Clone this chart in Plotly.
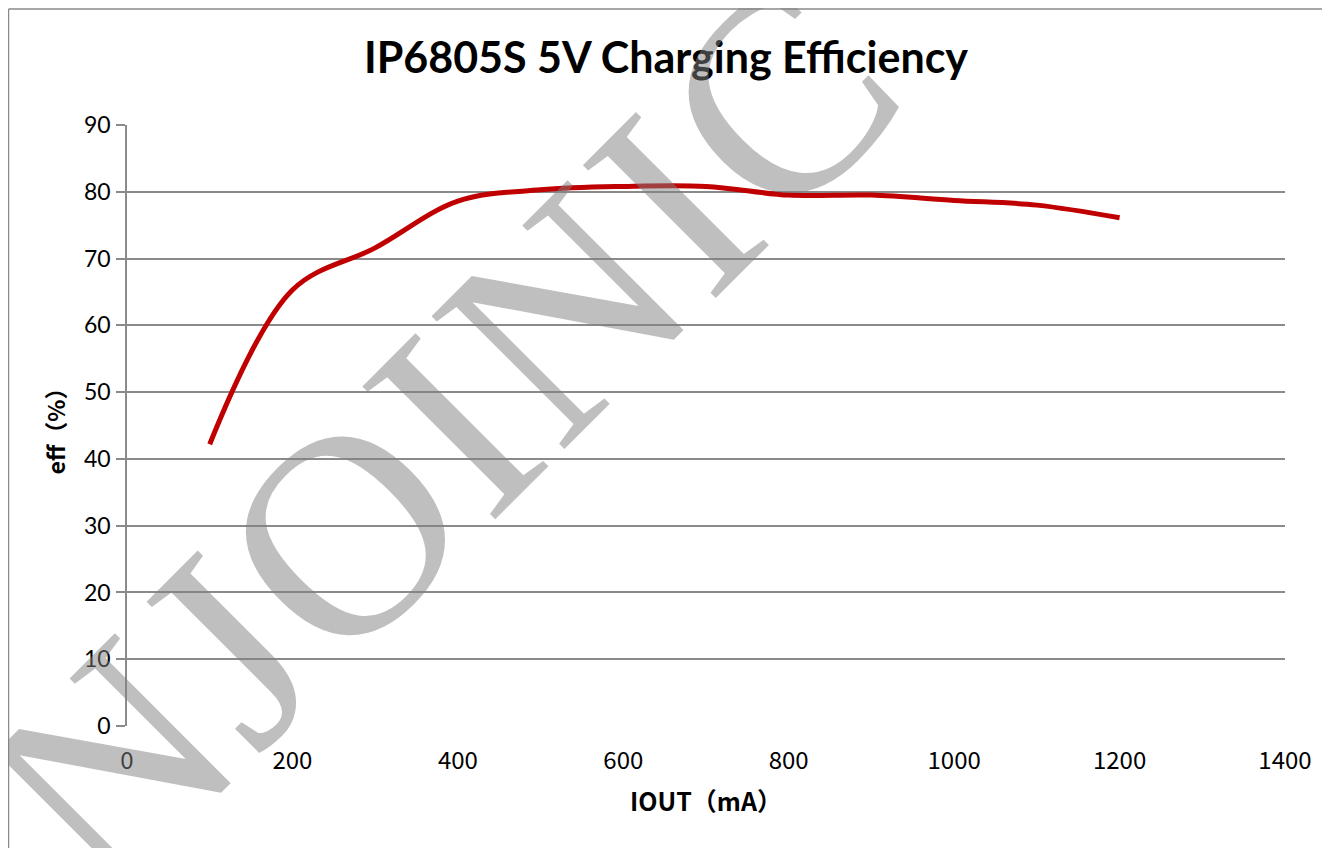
import math
import plotly.graph_objects as go

iout_ma = [100, 200, 300, 400, 500, 600, 700, 800, 900, 1000, 1100, 1200]
eff_pct = [42.2, 65.3, 71.6, 78.6, 80.3, 80.8, 80.8, 79.5, 79.5, 78.7, 78.0, 76.1]

x_ticks = [0, 200, 400, 600, 800, 1000, 1200, 1400]
y_ticks = [0, 10, 20, 30, 40, 50, 60, 70, 80, 90]

title_text = "IP6805S 5V Charging Efficiency"
x_title = "IOUT（mA）"
y_title = "eff（%）"
watermark = "NJOINIC"
# advance widths (em) of the serif watermark letters
wm_adv = {"N": 0.722, "J": 0.389, "O": 0.722, "I": 0.333, "C": 0.667}

W, H = 1330, 848
OFF = 8  # page body margin
PX0, PX1, PY0, PY1 = 127, 1285, 125, 726
L = PX0 - OFF
T = PY0 - OFF
R = W - (PX1 - OFF)
B = H - (PY1 - OFF)
pw, ph = PX1 - PX0, PY1 - PY0

def px_x(p):
    return (p - PX0) / pw

def px_y(p):
    return (PY1 - p) / ph

fig = go.Figure()
fig.add_trace(go.Scatter(
    x=iout_ma, y=eff_pct, mode="lines",
    line=dict(color="#C00000", width=5, shape="spline", smoothing=1.0),
    showlegend=False,
))

grid = "#8a8a8a"
font_main = "Lato, 'Noto Sans CJK SC', sans-serif"
font_cjk = "'Noto Sans CJK SC', Lato, sans-serif"
font_narrow = "'Liberation Sans Narrow', 'Noto Sans CJK SC', sans-serif"

fig.update_layout(
    width=W, height=H,
    margin=dict(l=L, r=R, t=T, b=B),
    paper_bgcolor="white", plot_bgcolor="white",
    title=dict(text=f"<b>{title_text}</b>", x=px_x(666), xref="paper",
               xanchor="center",
               y=1 - (58 - OFF) / H, yanchor="middle",
               font=dict(family=font_main, size=43, color="black")),
    xaxis=dict(range=[0, 1400], tickvals=x_ticks, showgrid=False,
               zeroline=False, showline=False, ticks="",
               ticklabelstandoff=18,
               tickfont=dict(family=font_narrow, size=24, color="black"),
               title=dict(text=f"<b>{x_title}</b>", standoff=18,
                          font=dict(family=font_narrow, size=25, color="black"))),
    yaxis=dict(range=[0, 90], tickvals=y_ticks, showgrid=True, gridcolor=grid,
               gridwidth=1.5, zeroline=False, showline=True, linecolor=grid,
               linewidth=1.5, ticks="outside", ticklen=9, tickcolor=grid,
               tickwidth=1.5, ticklabelstandoff=1,
               tickfont=dict(family=font_main, size=23, color="black"),
               title=dict(text=f"<b>{y_title}</b>", standoff=12,
                          font=dict(family=font_cjk, size=23, color="black"))),
)

# outer chart border (top, left, right)
bcol = dict(color="#8a8a8a", width=1.5)
fig.add_shape(type="line", xref="paper", yref="paper",
              x0=px_x(8.5), x1=px_x(1325), y0=px_y(9), y1=px_y(9), line=bcol)
fig.add_shape(type="line", xref="paper", yref="paper",
              x0=px_x(8.5), x1=px_x(8.5), y0=px_y(9), y1=px_y(860), line=bcol)
fig.add_shape(type="line", xref="paper", yref="paper",
              x0=px_x(1325), x1=px_x(1325), y0=px_y(9), y1=px_y(860), line=bcol)

# watermark, letter by letter along a -45 degree baseline
wm_size = 287
wm_spacing = 1.03
ang = math.radians(45)
ux, uy = math.cos(ang), -math.sin(ang)
anchor_idx, anchor_px = 2, (343, 534)  # centre of the "O"
centres = []
pos = 0.0
for ch in watermark:
    centres.append(pos + wm_adv[ch] / 2)
    pos += wm_adv[ch]
for i, ch in enumerate(watermark):
    d = (centres[i] - centres[anchor_idx]) * wm_size * wm_spacing
    cx = anchor_px[0] + d * ux
    cy = anchor_px[1] + d * uy
    fig.add_annotation(text=ch, xref="paper", yref="paper",
                       x=px_x(cx), y=px_y(cy), xanchor="center", yanchor="middle",
                       showarrow=False, textangle=-45,
                       font=dict(family="Liberation Serif, serif", size=wm_size,
                                 color="rgba(128,128,128,0.5)"))

fig.write_html("out.html")
